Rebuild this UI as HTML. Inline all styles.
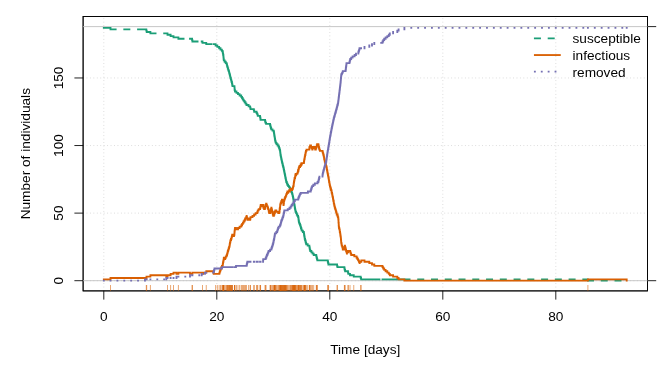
<!DOCTYPE html>
<html><head><meta charset="utf-8"><title>Epidemic curves</title>
<style>html,body{margin:0;padding:0;background:#fff}body{width:664px;height:374px;overflow:hidden}</style></head>
<body>
<svg width="664" height="374" viewBox="0 0 664 374" style="display:block;font-family:'Liberation Sans',sans-serif;font-size:13.67px" fill="#000">
<rect width="664" height="374" fill="#fff"/>
<path d="M103.8 290.9V16.5M216.8 290.9V16.5M329.8 290.9V16.5M442.8 290.9V16.5M555.8 290.9V16.5M83.1 280.7H647.5M83.1 213.12H647.5M83.1 145.54H647.5M83.1 77.96H647.5" fill="none" stroke="#d3d3d3" stroke-width="0.86" stroke-dasharray="0.86 2.58"/>
<path d="M103.8 290.9V299.6M216.8 290.9V299.6M329.8 290.9V299.6M442.8 290.9V299.6M555.8 290.9V299.6M83.1 280.7H74.4M83.1 213.12H74.4M83.1 145.54H74.4M83.1 77.96H74.4M647.5 280.7H656.2M647.5 26.6H656.2" fill="none" stroke="#000" stroke-width="0.86"/>
<rect x="83.1" y="16.5" width="564.4" height="274.4" fill="none" stroke="#000" stroke-width="0.86"/>
<rect x="83.1" y="16.5" width="564.4" height="274.4" fill="none" stroke="#000" stroke-width="0.86"/>
<path d="M83.1 280.7H647.5M83.1 26.6H647.5" fill="none" stroke="#bebebe" stroke-width="0.86"/>
<path d="M103.8 27.95H110.5M110.5 27.95V29.3M110.5 29.3H145M145 29.3H146.3M146.3 29.3V30.65M146.3 30.65H146.7M146.7 30.65V32.01M146.7 32.01H150.4M150.4 32.01V33.36M150.4 33.36H166.3M166.3 33.36H167.5M167.5 33.36V34.71M167.5 34.71H170.6M170.6 34.71V36.06M170.6 36.06H173.5M173.5 36.06V37.41M173.5 37.41H176.5M176.5 37.41H178.4M178.4 37.41V38.76M178.4 38.76H190M190 38.76H192.1M192.1 38.76V40.12M192.1 40.12H192.4M192.4 40.12V41.47M192.4 41.47H201.7M201.7 41.47H202.5M202.5 41.47V42.82M202.5 42.82H205M205 42.82H206.25M206.25 42.82V44.17M206.25 44.17H213.69M213.69 44.17H214.06M214.06 44.17H214.44M214.44 44.17H215.6M215.6 44.17V45.52M215.6 45.52H217.33M217.33 45.52V46.87M217.33 46.87H219.15M219.15 46.87V48.22M219.15 48.22H220.5M220.5 48.22V49.58M220.5 49.58H221.85M221.85 49.58V50.93M221.85 50.93H222M222 50.93H222.64M222.64 50.93V52.28M222.64 52.28H222.9M222.9 52.28V53.63M222.9 53.63H223.16M223.16 53.63V54.98M223.16 54.98H223.37M223.37 54.98V56.33M223.37 56.33H223.5M223.5 56.33V57.69M223.5 57.69H223.64M223.64 57.69V59.04M223.64 59.04H223.77M223.77 59.04V60.39M223.77 60.39H224.65M224.65 60.39V61.74M224.65 61.74H225.73M225.73 61.74V63.09M225.73 63.09H226.67M226.67 63.09V64.44M226.67 64.44H227.03M227.03 64.44V65.8M227.03 65.8H227.38M227.38 65.8V67.15M227.38 67.15H227.77M227.77 67.15V68.5M227.77 68.5H228.2M228.2 68.5V69.85M228.2 69.85H228.63M228.63 69.85V71.2M228.63 71.2H229.06M229.06 71.2V72.55M229.06 72.55H229.43M229.43 72.55V73.91M229.43 73.91H229.77M229.77 73.91V75.26M229.77 75.26H230.11M230.11 75.26V76.61M230.11 76.61H230.45M230.45 76.61V77.96M230.45 77.96H230.81M230.81 77.96V79.31M230.81 79.31H231.19M231.19 79.31V80.66M231.19 80.66H231.57M231.57 80.66V82.01M231.57 82.01H231.94M231.94 82.01V83.37M231.94 83.37H232.2M232.2 83.37V84.72M232.2 84.72H232.46M232.46 84.72V86.07M232.46 86.07H234.44M234.44 86.07V87.42M234.44 87.42H234.55M234.55 87.42V88.77M234.55 88.77H234.66M234.66 88.77V90.12M234.66 90.12H234.97M234.97 90.12V91.48M234.97 91.48H236M236 91.48H236.46M236.46 91.48V92.83M236.46 92.83H237.98M237.98 92.83V94.18M237.98 94.18H239.59M239.59 94.18V95.53M239.59 95.53H241.2M241.2 95.53V96.88M241.2 96.88H242.03M242.03 96.88V98.23M242.03 98.23H242.85M242.85 98.23V99.59M242.85 99.59H243.68M243.68 99.59V100.94M243.68 100.94H244.61M244.61 100.94V102.29M244.61 102.29H245.54M245.54 102.29V103.64M245.54 103.64H246.47M246.47 103.64V104.99M246.47 104.99H246.67M246.67 104.99H247M247 104.99H247.33M247.33 104.99H248.59M248.59 104.99V106.34M248.59 106.34H250.14M250.14 106.34V107.7M250.14 107.7H250.5M250.5 107.7V109.05M250.5 109.05H253.83M253.83 109.05V110.4M253.83 110.4H254.19M254.19 110.4V111.75M254.19 111.75H256.59M256.59 111.75V113.1M256.59 113.1H257.21M257.21 113.1V114.45M257.21 114.45H257.76M257.76 114.45V115.8M257.76 115.8H260.04M260.04 115.8V117.16M260.04 117.16H260.3M260.3 117.16V118.51M260.3 118.51H260.56M260.56 118.51V119.86M260.56 119.86H263.07M263.07 119.86H263.23M263.23 119.86H265.1M265.1 119.86V121.21M265.1 121.21H265.37M265.37 121.21V122.56M265.37 122.56H265.71M265.71 122.56H266.07M266.07 122.56V123.91M266.07 123.91H266.29M266.29 123.91H266.86M266.86 123.91H267.43M267.43 123.91H268.01M268.01 123.91H268.58M268.58 123.91H270.05M270.05 123.91H270.05M270.05 123.91V125.27M270.05 125.27H270.44M270.44 125.27V126.62M270.44 126.62H270.83M270.83 126.62V127.97M270.83 127.97H271.22M271.22 127.97V129.32M271.22 129.32H271.4M271.4 129.32H271.84M271.84 129.32H272.29M272.29 129.32H272.5M272.5 129.32V130.67M272.5 130.67H272.73M272.73 130.67H273.15M273.15 130.67H273.43M273.43 130.67H273.71M273.71 130.67H273.77M273.77 130.67V132.02M273.77 132.02H273.98M273.98 132.02V133.38M273.98 133.38H273.99M273.99 133.38H274.2M274.2 133.38V134.73M274.2 134.73H274.27M274.27 134.73H274.41M274.41 134.73V136.08M274.41 136.08H274.52M274.52 136.08H274.63M274.63 136.08V137.43M274.63 137.43H274.73M274.73 137.43H274.85M274.85 137.43V138.78M274.85 138.78H274.95M274.95 138.78H275.07M275.07 138.78V140.13M275.07 140.13H275.29M275.29 140.13V141.49M275.29 141.49H275.76M275.76 141.49V142.84M275.76 142.84H276.26M276.26 142.84H276.51M276.51 142.84V144.19M276.51 144.19H277.18M277.18 144.19H277.59M277.59 144.19V145.54M277.59 145.54H277.64M277.64 145.54H278.1M278.1 145.54H278.58M278.58 145.54V146.89M278.58 146.89H278.67M278.67 146.89H279.09M279.09 146.89V148.24M279.09 148.24H279.59M279.59 148.24V149.59M279.59 149.59H279.89M279.89 149.59H280.03M280.03 149.59V150.95M280.03 150.95H280.19M280.19 150.95V152.3M280.19 152.3H280.36M280.36 152.3V153.65M280.36 153.65H280.51M280.51 153.65H280.52M280.52 153.65V155M280.52 155H280.74M280.74 155V156.35M280.74 156.35H280.83M280.83 156.35H281.02M281.02 156.35V157.7M281.02 157.7H281.15M281.15 157.7H281.3M281.3 157.7V159.06M281.3 159.06H281.58M281.58 159.06H281.58M281.58 159.06V160.41M281.58 160.41H281.87M281.87 160.41V161.76M281.87 161.76H282.13M282.13 161.76H282.19M282.19 161.76V163.11M282.19 163.11H282.53M282.53 163.11V164.46M282.53 164.46H282.68M282.68 164.46H282.86M282.86 164.46V165.81M282.86 165.81H283.17M283.17 165.81H283.19M283.19 165.81V167.17M283.19 167.17H283.46M283.46 167.17H283.53M283.53 167.17V168.52M283.53 168.52H283.75M283.75 168.52H283.84M283.84 168.52V169.87M283.84 169.87H284.04M284.04 169.87H284.11M284.11 169.87V171.22M284.11 171.22H284.34M284.34 171.22H284.38M284.38 171.22V172.57M284.38 172.57H284.65M284.65 172.57V173.92M284.65 173.92H284.92M284.92 173.92V175.28M284.92 175.28H285.19M285.19 175.28V176.63M285.19 176.63H285.46M285.46 176.63V177.98M285.46 177.98H285.73M285.73 177.98V179.33M285.73 179.33H286M286 179.33V180.68M286 180.68H286.29M286.29 180.68V182.03M286.29 182.03H286.81M286.81 182.03V183.38M286.81 183.38H287.33M287.33 183.38V184.74M287.33 184.74H287.74M287.74 184.74H288.13M288.13 184.74V186.09M288.13 186.09H289.07M289.07 186.09V187.44M289.07 187.44H289.49M289.49 187.44H290.01M290.01 187.44V188.79M290.01 188.79H290.59M290.59 188.79V190.14M290.59 190.14H290.7M290.7 190.14H291.17M291.17 190.14V191.49M291.17 191.49H291.65M291.65 191.49H291.76M291.76 191.49V192.85M291.76 192.85H292.17M292.17 192.85V194.2M292.17 194.2H292.51M292.51 194.2H292.53M292.53 194.2V195.55M292.53 195.55H292.89M292.89 195.55V196.9M292.89 196.9H293.13M293.13 196.9V198.25M293.13 198.25H293.37M293.37 198.25H293.37M293.37 198.25V199.6M293.37 199.6H293.61M293.61 199.6V200.96M293.61 200.96H293.85M293.85 200.96V202.31M293.85 202.31H294.09M294.09 202.31V203.66M294.09 203.66H294.18M294.18 203.66H294.33M294.33 203.66V205.01M294.33 205.01H294.57M294.57 205.01V206.36M294.57 206.36H294.8M294.8 206.36V207.71M294.8 207.71H294.86M294.86 207.71H295.04M295.04 207.71V209.07M295.04 209.07H295.28M295.28 209.07V210.42M295.28 210.42H295.54M295.54 210.42V211.77M295.54 211.77H296.15M296.15 211.77V213.12M296.15 213.12H296.75M296.75 213.12V214.47M296.75 214.47H297.37M297.37 214.47V215.82M297.37 215.82H298.05M298.05 215.82V217.17M298.05 217.17H298.23M298.23 217.17H298.41M298.41 217.17V218.53M298.41 218.53H298.58M298.58 218.53V219.88M298.58 219.88H298.71M298.71 219.88H298.75M298.75 219.88V221.23M298.75 221.23H298.98M298.98 221.23V222.58M298.98 222.58H299.18M299.18 222.58H299.5M299.5 222.58V223.93M299.5 223.93H299.83M299.83 223.93H300.02M300.02 223.93V225.28M300.02 225.28H300.51M300.51 225.28V226.64M300.51 226.64H300.64M300.64 226.64H300.91M300.91 226.64V227.99M300.91 227.99H301.31M301.31 227.99V229.34M301.31 229.34H301.71M301.71 229.34V230.69M301.71 230.69H302.85M302.85 230.69V232.04M302.85 232.04H303.84M303.84 232.04V233.39M303.84 233.39H304.06M304.06 233.39V234.75M304.06 234.75H304.28M304.28 234.75V236.1M304.28 236.1H304.5M304.5 236.1V237.45M304.5 237.45H304.72M304.72 237.45V238.8M304.72 238.8H305.05M305.05 238.8V240.15M305.05 240.15H305.43M305.43 240.15V241.5M305.43 241.5H305.81M305.81 241.5V242.86M305.81 242.86H306.19M306.19 242.86V244.21M306.19 244.21H307.68M307.68 244.21V245.56M307.68 245.56H307.88M307.88 245.56H309.38M309.38 245.56V246.91M309.38 246.91H309.61M309.61 246.91V248.26M309.61 248.26H309.83M309.83 248.26V249.61M309.83 249.61H310.25M310.25 249.61V250.96M310.25 250.96H310.73M310.73 250.96H311.15M311.15 250.96H311.4M311.4 250.96V252.32M311.4 252.32H311.56M311.56 252.32H312.1M312.1 252.32H312.55M312.55 252.32V253.67M312.55 253.67H313.31M313.31 253.67H313.7M313.7 253.67V255.02M313.7 255.02H314.86M314.86 255.02H316.27M316.27 255.02V256.37M316.27 256.37H316.62M316.62 256.37V257.72M316.62 257.72H316.97M316.97 257.72V259.07M316.97 259.07H317.32M317.32 259.07V260.43M317.32 260.43H317.56M317.56 260.43H318.39M318.39 260.43H318.72M318.72 260.43H319.06M319.06 260.43H319.42M319.42 260.43H322.49M322.49 260.43H322.67M322.67 260.43H322.89M322.89 260.43H323.25M323.25 260.43H323.61M323.61 260.43H323.98M323.98 260.43H324.37M324.37 260.43H324.75M324.75 260.43H325.14M325.14 260.43H325.53M325.53 260.43H325.91M325.91 260.43H326.27M326.27 260.43H326.47M326.47 260.43H326.66M326.66 260.43H326.85M326.85 260.43H327.05M327.05 260.43H327.24M327.24 260.43H327.43M327.43 260.43H327.66M327.66 260.43H327.8M327.8 260.43V261.78M327.8 261.78H327.9M327.9 261.78H328.1M328.1 261.78V263.13M328.1 263.13H328.14M328.14 263.13H328.38M328.38 263.13H328.4M328.4 263.13V264.48M328.4 264.48H328.62M328.62 264.48H328.85M328.85 264.48H329.06M329.06 264.48H329.27M329.27 264.48H329.48M329.48 264.48H329.69M329.69 264.48H329.91M329.91 264.48H330.14M330.14 264.48H330.4M330.4 264.48H330.66M330.66 264.48H330.91M330.91 264.48H331.17M331.17 264.48H331.43M331.43 264.48H331.68M331.68 264.48H331.94M331.94 264.48H332.23M332.23 264.48H332.52M332.52 264.48H332.8M332.8 264.48H333.09M333.09 264.48H333.37M333.37 264.48H333.66M333.66 264.48H334.01M334.01 264.48H334.4M334.4 264.48H334.78M334.78 264.48H335.17M335.17 264.48H335.56M335.56 264.48H335.94M335.94 264.48H336.32M336.32 264.48H336.68M336.68 264.48H337.04M337.04 264.48H337.1M337.1 264.48V265.83M337.1 265.83H337.39M337.39 265.83H337.4M337.4 265.83V267.18M337.4 267.18H337.75M337.75 267.18H338.1M338.1 267.18H338.27M338.27 267.18H338.44M338.44 267.18H338.61M338.61 267.18H338.77M338.77 267.18H338.94M338.94 267.18H339.11M339.11 267.18H339.28M339.28 267.18H339.44M339.44 267.18H339.6M339.6 267.18H339.77M339.77 267.18H339.93M339.93 267.18H340.09M340.09 267.18H340.25M340.25 267.18H340.41M340.41 267.18H340.58M340.58 267.18H340.7M340.7 267.18H340.82M340.82 267.18H340.93M340.93 267.18H341.05M341.05 267.18H341.17M341.17 267.18H341.46M341.46 267.18H342.12M342.12 267.18H342.79M342.79 267.18H344.4M344.4 267.18V268.54M344.4 268.54H344.7M344.7 268.54V269.89M344.7 269.89H345.1M345.1 269.89V271.24M345.1 271.24H345.61M345.61 271.24H345.79M345.79 271.24H345.96M345.96 271.24H346.14M346.14 271.24H346.32M346.32 271.24H346.5M346.5 271.24H348M348 271.24V272.59M348 272.59H348.3M348.3 272.59V273.94M348.3 273.94H349.49M349.49 273.94H349.85M349.85 273.94H350M350 273.94V275.29M350 275.29H350.22M350.22 275.29H351.2M351.2 275.29H352.6M352.6 275.29H353.75M353.75 275.29V276.65M353.75 276.65H354.6M354.6 276.65H356M356 276.65H358.3M358.3 276.65H358.7M358.7 276.65H359.1M359.1 276.65H359.5M359.5 276.65H360.7M360.7 276.65V278M360.7 278H361.1M361.1 278V279.35M361.1 279.35H364.5M364.5 279.35H369.3M369.3 279.35H372M372 279.35H374.3M374.3 279.35H382.5M382.5 279.35H383.2M383.2 279.35H384.2M384.2 279.35H385.6M385.6 279.35H387.3M387.3 279.35H388.8M388.8 279.35H389.8M389.8 279.35H393.1M393.1 279.35H397.3M397.3 279.35H398.6M398.6 279.35H404.4M404.4 279.35H587.9M587.9 279.35V280.7M587.9 280.7H626.7" fill="none" stroke="#1B9E77" stroke-width="1.84" stroke-linecap="square" stroke-dasharray="5.16 8.6"/>
<path d="M103.8 279.35H110.5M110.5 279.35V278M110.5 278H146.5M146.5 278V276.65M146.5 276.65H150.4M150.4 276.65V275.29M150.4 275.29H166.3M166.3 275.29V276.65M166.3 276.65H167.5M167.5 276.65V275.29M167.5 275.29H170.6M170.6 275.29V273.94M170.6 273.94H173.5M173.5 273.94V272.59M173.5 272.59H176.5M176.5 272.59V273.94M176.5 273.94H178.4M178.4 273.94V272.59M178.4 272.59H190M190 272.59V273.94M190 273.94H192.3M192.3 273.94V272.59M192.3 272.59H201.9M201.9 272.59V273.94M201.9 273.94H203.1M203.1 273.94V272.59M203.1 272.59H206.3M206.3 272.59V271.24M206.3 271.24H213.3M213.3 271.24V272.59M213.3 272.59H213.7M213.7 272.59V273.94M213.7 273.94H219.4M219.4 273.94V272.59M219.4 272.59H219.8M219.8 272.59V271.24M219.8 271.24H220.3M220.3 271.24V269.89M220.3 269.89H220.8M220.8 269.89V268.54M220.8 268.54H221.3M221.3 268.54V267.18M221.3 267.18H221.9M221.9 267.18V265.83M221.9 265.83H222.7M222.7 265.83V264.48M222.7 264.48H222.9M222.9 264.48V263.13M222.9 263.13H223.1M223.1 263.13V261.78M223.1 261.78H223.4M223.4 261.78V260.43M223.4 260.43H223.7M223.7 260.43V259.07M223.7 259.07H223.8M223.8 259.07V257.72M223.8 257.72H224M224 257.72V259.07M224 259.07H224.7M224.7 259.07V257.72M224.7 257.72H224.9M224.9 257.72V259.07M224.9 259.07H225M225 259.07V257.72M225 257.72H225.1M225.1 257.72V259.07M225.1 259.07H225.2M225.2 259.07V257.72M225.2 257.72H225.8M225.8 257.72V256.37M225.8 256.37H226.7M226.7 256.37V255.02M226.7 255.02H227.1M227.1 255.02V253.67M227.1 253.67H227.5M227.5 253.67V252.32M227.5 252.32H227.8M227.8 252.32V250.96M227.8 250.96H228.2M228.2 250.96V249.61M228.2 249.61H228.7M228.7 249.61V248.26M228.7 248.26H229.1M229.1 248.26V246.91M229.1 246.91H229.5M229.5 246.91V245.56M229.5 245.56H229.7M229.7 245.56V244.21M229.7 244.21H229.9M229.9 244.21V242.86M229.9 242.86H230.2M230.2 242.86V241.5M230.2 241.5H230.5M230.5 241.5V240.15M230.5 240.15H230.9M230.9 240.15V238.8M230.9 238.8H231M231 238.8V240.15M231 240.15H231.1M231.1 240.15V238.8M231.1 238.8H231.5M231.5 238.8V237.45M231.5 237.45H231.9M231.9 237.45V236.1M231.9 236.1H232.2M232.2 236.1V234.75M232.2 234.75H233.6M233.6 234.75V236.1M233.6 236.1H234M234 236.1V234.75M234 234.75H234.4M234.4 234.75V233.39M234.4 233.39H234.5M234.5 233.39V232.04M234.5 232.04H234.6M234.6 232.04V230.69M234.6 230.69H234.8M234.8 230.69V229.34M234.8 229.34H235M235 229.34V227.99M235 227.99H236M236 227.99V229.34M236 229.34H238M238 229.34V227.99M238 227.99H239.6M239.6 227.99V226.64M239.6 226.64H241.3M241.3 226.64V225.28M241.3 225.28H242.1M242.1 225.28V223.93M242.1 223.93H242.9M242.9 223.93V222.58M242.9 222.58H243.7M243.7 222.58V221.23M243.7 221.23H244.6M244.6 221.23V219.88M244.6 219.88H245.1M245.1 219.88V218.53M245.1 218.53H246.1M246.1 218.53V217.17M246.1 217.17H246.6M246.6 217.17V215.82M246.6 215.82H246.7M246.7 215.82V217.17M246.7 217.17H247M247 217.17V218.53M247 218.53H247.4M247.4 218.53V219.88M247.4 219.88H248.6M248.6 219.88V218.53M248.6 218.53H248.7M248.7 218.53V219.88M248.7 219.88H250.2M250.2 219.88V218.53M250.2 218.53H250.5M250.5 218.53V217.17M250.5 217.17H252.5M252.5 217.17V215.82M252.5 215.82H254.1M254.1 215.82V214.47M254.1 214.47H255.6M255.6 214.47V213.12M255.6 213.12H257.3M257.3 213.12V211.77M257.3 211.77H257.8M257.8 211.77V210.42M257.8 210.42H258.7M258.7 210.42V209.07M258.7 209.07H260.1M260.1 209.07V207.71M260.1 207.71H260.4M260.4 207.71V206.36M260.4 206.36H260.7M260.7 206.36V205.01M260.7 205.01H261M261 205.01V206.36M261 206.36H262.5M262.5 206.36V205.01M262.5 205.01H263.1M263.1 205.01V206.36M263.1 206.36H263.4M263.4 206.36V207.71M263.4 207.71H264.1M264.1 207.71V209.07M264.1 209.07H264.9M264.9 209.07V207.71M264.9 207.71H265.2M265.2 207.71V206.36M265.2 206.36H265.4M265.4 206.36V205.01M265.4 205.01H266.1M266.1 205.01V203.66M266.1 203.66H266.3M266.3 203.66V205.01M266.3 205.01H266.4M266.4 205.01V203.66M266.4 203.66H266.5M266.5 203.66V205.01M266.5 205.01H266.9M266.9 205.01V206.36M266.9 206.36H267.7M267.7 206.36V207.71M267.7 207.71H268.1M268.1 207.71V209.07M268.1 209.07H268.6M268.6 209.07V210.42M268.6 210.42H268.8M268.8 210.42V211.77M268.8 211.77H269.2M269.2 211.77V213.12M269.2 213.12H270.1M270.1 213.12V211.77M270.1 211.77H270.5M270.5 211.77V210.42M270.5 210.42H270.9M270.9 210.42V209.07M270.9 209.07H271.3M271.3 209.07V207.71M271.3 207.71H271.5M271.5 207.71V209.07M271.5 209.07H271.9M271.9 209.07V210.42M271.9 210.42H272.1M272.1 210.42V211.77M272.1 211.77H272.3M272.3 211.77V213.12M272.3 213.12H272.5M272.5 213.12V211.77M272.5 211.77H272.7M272.7 211.77V213.12M272.7 213.12H272.8M272.8 213.12V214.47M272.8 214.47H273.2M273.2 214.47V215.82M273.2 215.82H273.9M273.9 215.82V214.47M273.9 214.47H274.2M274.2 214.47V213.12M274.2 213.12H274.3M274.3 213.12V214.47M274.3 214.47H274.4M274.4 214.47V213.12M274.4 213.12H274.7M274.7 213.12V211.77M274.7 211.77H274.8M274.8 211.77V213.12M274.8 213.12H274.9M274.9 213.12V211.77M274.9 211.77H275.3M275.3 211.77V210.42M275.3 210.42H276.3M276.3 210.42V211.77M276.3 211.77H278.2M278.2 211.77V213.12M278.2 213.12H278.6M278.6 213.12V211.77M278.6 211.77H278.7M278.7 211.77V213.12M278.7 213.12H279.3M279.3 213.12V211.77M279.3 211.77H279.6M279.6 211.77V209.07M279.6 209.07H279.8M279.8 209.07V207.71M279.8 207.71H279.9M279.9 207.71V209.07M279.9 209.07H280M280 209.07V207.71M280 207.71H280.1M280.1 207.71V206.36M280.1 206.36H280.2M280.2 206.36V205.01M280.2 205.01H280.4M280.4 205.01V203.66M280.4 203.66H280.8M280.8 203.66V202.31M280.8 202.31H280.9M280.9 202.31V203.66M280.9 203.66H281.1M281.1 203.66V202.31M281.1 202.31H281.4M281.4 202.31V200.96M281.4 200.96H281.9M281.9 200.96V199.6M281.9 199.6H282.3M282.3 199.6V200.96M282.3 200.96H282.7M282.7 200.96V202.31M282.7 202.31H283.3M283.3 202.31V203.66M283.3 203.66H283.5M283.5 203.66V205.01M283.5 205.01H283.6M283.6 205.01V203.66M283.6 203.66H283.7M283.7 203.66V202.31M283.7 202.31H283.8M283.8 202.31V203.66M283.8 203.66H283.9M283.9 203.66V200.96M283.9 200.96H284.2M284.2 200.96V199.6M284.2 199.6H284.7M284.7 199.6V198.25M284.7 198.25H285.2M285.2 198.25V196.9M285.2 196.9H285.8M285.8 196.9V195.55M285.8 195.55H286.3M286.3 195.55V194.2M286.3 194.2H286.9M286.9 194.2V192.85M286.9 192.85H287.4M287.4 192.85V191.49M287.4 191.49H287.8M287.8 191.49V192.85M287.8 192.85H288.2M288.2 192.85V191.49M288.2 191.49H289.1M289.1 191.49V190.14M289.1 190.14H289.6M289.6 190.14V191.49M289.6 191.49H289.9M289.9 191.49V190.14M289.9 190.14H290.6M290.6 190.14V188.79M290.6 188.79H290.7M290.7 188.79V190.14M290.7 190.14H291.2M291.2 190.14V188.79M291.2 188.79H291.7M291.7 188.79V190.14M291.7 190.14H291.8M291.8 190.14V188.79M291.8 188.79H292.1M292.1 188.79V190.14M292.1 190.14H292.2M292.2 190.14V188.79M292.2 188.79H292.9M292.9 188.79V187.44M292.9 187.44H293.2M293.2 187.44V186.09M293.2 186.09H293.6M293.6 186.09V184.74M293.6 184.74H293.7M293.7 184.74V183.38M293.7 183.38H293.9M293.9 183.38V182.03M293.9 182.03H294.1M294.1 182.03V180.68M294.1 180.68H294.4M294.4 180.68V179.33M294.4 179.33H294.6M294.6 179.33V177.98M294.6 177.98H295.1M295.1 177.98V176.63M295.1 176.63H295.3M295.3 176.63V175.28M295.3 175.28H295.6M295.6 175.28V173.92M295.6 173.92H296.1M296.1 173.92V175.28M296.1 175.28H296.2M296.2 175.28V173.92M296.2 173.92H297.4M297.4 173.92V172.57M297.4 172.57H297.9M297.9 172.57V171.22M297.9 171.22H298.1M298.1 171.22V169.87M298.1 169.87H298.3M298.3 169.87V171.22M298.3 171.22H298.4M298.4 171.22V169.87M298.4 169.87H298.6M298.6 169.87V168.52M298.6 168.52H299M299 168.52V167.17M299 167.17H299.5M299.5 167.17V165.81M299.5 165.81H299.9M299.9 165.81V167.17M299.9 167.17H300.1M300.1 167.17V165.81M300.1 165.81H300.6M300.6 165.81V164.46M300.6 164.46H300.7M300.7 164.46V165.81M300.7 165.81H301M301 165.81V164.46M301 164.46H301.4M301.4 164.46V163.11M301.4 163.11H301.6M301.6 163.11V164.46M301.6 164.46H301.8M301.8 164.46V163.11M301.8 163.11H303.9M303.9 163.11V161.76M303.9 161.76H304.1M304.1 161.76V160.41M304.1 160.41H304.3M304.3 160.41V159.06M304.3 159.06H304.6M304.6 159.06V157.7M304.6 157.7H304.8M304.8 157.7V156.35M304.8 156.35H305.1M305.1 156.35V155M305.1 155H305.4M305.4 155V153.65M305.4 153.65H305.6M305.6 153.65V152.3M305.6 152.3H305.9M305.9 152.3V150.95M305.9 150.95H306.5M306.5 150.95V149.59M306.5 149.59H309.3M309.3 149.59V148.24M309.3 148.24H309.5M309.5 148.24V146.89M309.5 146.89H310.1M310.1 146.89V145.54M310.1 145.54H311M311 145.54V146.89M311 146.89H311.6M311.6 146.89V148.24M311.6 148.24H312.3M312.3 148.24V149.59M312.3 149.59H312.5M312.5 149.59V148.24M312.5 148.24H313.3M313.3 148.24V146.89M313.3 146.89H314.5M314.5 146.89V148.24M314.5 148.24H315.2M315.2 148.24V149.59M315.2 149.59H315.8M315.8 149.59V148.24M315.8 148.24H316.3M316.3 148.24V146.89M316.3 146.89H316.7M316.7 146.89V145.54M316.7 145.54H317.1M317.1 145.54V144.19M317.1 144.19H318.4M318.4 144.19V145.54M318.4 145.54H318.7M318.7 145.54V146.89M318.7 146.89H319M319 146.89V148.24M319 148.24H319.3M319.3 148.24V149.59M319.3 149.59H319.9M319.9 149.59V150.95M319.9 150.95H322.6M322.6 150.95V152.3M322.6 152.3H323M323 152.3V153.65M323 153.65H323.4M323.4 153.65V155M323.4 155H323.7M323.7 155V156.35M323.7 156.35H324M324 156.35V157.7M324 157.7H324.2M324.2 157.7V159.06M324.2 159.06H324.5M324.5 159.06V160.41M324.5 160.41H324.8M324.8 160.41V161.76M324.8 161.76H325.2M325.2 161.76V163.11M325.2 163.11H325.5M325.5 163.11V164.46M325.5 164.46H326M326 164.46V165.81M326 165.81H326.4M326.4 165.81V167.17M326.4 167.17H326.7M326.7 167.17V168.52M326.7 168.52H326.9M326.9 168.52V169.87M326.9 169.87H327.2M327.2 169.87V171.22M327.2 171.22H327.4M327.4 171.22V172.57M327.4 172.57H327.7M327.7 172.57V173.92M327.7 173.92H327.9M327.9 173.92V175.28M327.9 175.28H328.2M328.2 175.28V176.63M328.2 176.63H328.5M328.5 176.63V177.98M328.5 177.98H328.7M328.7 177.98V179.33M328.7 179.33H328.9M328.9 179.33V180.68M328.9 180.68H329.1M329.1 180.68V182.03M329.1 182.03H329.4M329.4 182.03V183.38M329.4 183.38H329.6M329.6 183.38V184.74M329.6 184.74H329.9M329.9 184.74V186.09M329.9 186.09H330.2M330.2 186.09V187.44M330.2 187.44H330.5M330.5 187.44V188.79M330.5 188.79H330.6M330.6 188.79V187.44M330.6 187.44H330.7M330.7 187.44V188.79M330.7 188.79H331M331 188.79V190.14M331 190.14H331.5M331.5 190.14V191.49M331.5 191.49H331.7M331.7 191.49V192.85M331.7 192.85H332.1M332.1 192.85V194.2M332.1 194.2H332.3M332.3 194.2V195.55M332.3 195.55H332.6M332.6 195.55V196.9M332.6 196.9H332.9M332.9 196.9V198.25M332.9 198.25H333.1M333.1 198.25V199.6M333.1 199.6H333.4M333.4 199.6V200.96M333.4 200.96H333.7M333.7 200.96V202.31M333.7 202.31H333.8M333.8 202.31V203.66M333.8 203.66H334.2M334.2 203.66V205.01M334.2 205.01H334.4M334.4 205.01V206.36M334.4 206.36H334.8M334.8 206.36V207.71M334.8 207.71H335.2M335.2 207.71V209.07M335.2 209.07H335.6M335.6 209.07V210.42M335.6 210.42H336M336 210.42V211.77M336 211.77H336.4M336.4 211.77V213.12M336.4 213.12H336.7M336.7 213.12V214.47M336.7 214.47H337.4M337.4 214.47V215.82M337.4 215.82H337.5M337.5 215.82V214.47M337.5 214.47H337.6M337.6 214.47V215.82M337.6 215.82H337.8M337.8 215.82V217.17M337.8 217.17H338.2M338.2 217.17V218.53M338.2 218.53H338.4M338.4 218.53V219.88M338.4 219.88H338.5M338.5 219.88V222.58M338.5 222.58H338.7M338.7 222.58V225.28M338.7 225.28H338.8M338.8 225.28V226.64M338.8 226.64H339M339 226.64V227.99M339 227.99H339.3M339.3 227.99V229.34M339.3 229.34H339.7M339.7 229.34V230.69M339.7 230.69H339.8M339.8 230.69V232.04M339.8 232.04H340.1M340.1 232.04V233.39M340.1 233.39H340.3M340.3 233.39V234.75M340.3 234.75H340.5M340.5 234.75V236.1M340.5 236.1H340.7M340.7 236.1V237.45M340.7 237.45H340.9M340.9 237.45V238.8M340.9 238.8H341M341 238.8V240.15M341 240.15H341.1M341.1 240.15V241.5M341.1 241.5H341.2M341.2 241.5V242.86M341.2 242.86H341.5M341.5 242.86V244.21M341.5 244.21H341.7M341.7 244.21V245.56M341.7 245.56H342.2M342.2 245.56V246.91M342.2 246.91H342.6M342.6 246.91V248.26M342.6 248.26H342.8M342.8 248.26V249.61M342.8 249.61H344.2M344.2 249.61V248.26M344.2 248.26H344.6M344.6 248.26V246.91M344.6 246.91H344.8M344.8 246.91V245.56M344.8 245.56H345M345 245.56V246.91M345 246.91H345.3M345.3 246.91V248.26M345.3 248.26H345.7M345.7 248.26V249.61M345.7 249.61H346.1M346.1 249.61V250.96M346.1 250.96H346.5M346.5 250.96V252.32M346.5 252.32H346.9M346.9 252.32V253.67M346.9 253.67H347M347 253.67V252.32M347 252.32H348.1M348.1 252.32V250.96M348.1 250.96H350.2M350.2 250.96V252.32M350.2 252.32H350.7M350.7 252.32V253.67M350.7 253.67H351.2M351.2 253.67V255.02M351.2 255.02H354.3M354.3 255.02V256.37M354.3 256.37H356.6M356.6 256.37V257.72M356.6 257.72H357.4M357.4 257.72V259.07M357.4 259.07H358.1M358.1 259.07V260.43M358.1 260.43H358.9M358.9 260.43V261.78M358.9 261.78H359.6M359.6 261.78V263.13M359.6 263.13H359.7M359.7 263.13V261.78M359.7 261.78H361.3M361.3 261.78V260.43M361.3 260.43H364.5M364.5 260.43V261.78M364.5 261.78H369.3M369.3 261.78V263.13M369.3 263.13H372M372 263.13V264.48M372 264.48H374.3M374.3 264.48V265.83M374.3 265.83H382.5M382.5 265.83V267.18M382.5 267.18H383.2M383.2 267.18V268.54M383.2 268.54H384.2M384.2 268.54V269.89M384.2 269.89H385.6M385.6 269.89V271.24M385.6 271.24H387.3M387.3 271.24V272.59M387.3 272.59H388.8M388.8 272.59V273.94M388.8 273.94H389.8M389.8 273.94V275.29M389.8 275.29H393.1M393.1 275.29V276.65M393.1 276.65H397.3M397.3 276.65V278M397.3 278H398.6M398.6 278V279.35M398.6 279.35H404.4M404.4 279.35V280.7M404.4 280.7H587.9M587.9 280.7V279.35M587.9 279.35H626.7M626.7 279.35V280.7" fill="none" stroke="#D95F02" stroke-width="1.84" stroke-linecap="square"/>
<path d="M103.8 280.7H110.5M110.5 280.7H145M145 280.7V279.35M145 279.35H146.3M146.3 279.35H146.7M146.7 279.35H150.4M150.4 279.35H166.3M166.3 279.35V278M166.3 278H167.5M167.5 278H170.6M170.6 278H173.5M173.5 278H176.5M176.5 278V276.65M176.5 276.65H178.4M178.4 276.65H190M190 276.65V275.29M190 275.29H192.1M192.1 275.29H192.4M192.4 275.29H201.7M201.7 275.29V273.94M201.7 273.94H202.5M202.5 273.94H205M205 273.94V272.59M205 272.59H206.25M206.25 272.59H213.69M213.69 272.59V271.24M213.69 271.24H214.06M214.06 271.24V269.89M214.06 269.89H214.44M214.44 269.89V268.54M214.44 268.54H215.6M215.6 268.54H217.33M217.33 268.54H219.15M219.15 268.54H220.5M220.5 268.54H221.85M221.85 268.54H222M222 268.54V267.18M222 267.18H222.64M222.64 267.18H222.9M222.9 267.18H223.16M223.16 267.18H223.37M223.37 267.18H223.5M223.5 267.18H223.64M223.64 267.18H223.77M223.77 267.18H224.65M224.65 267.18H225.73M225.73 267.18H226.67M226.67 267.18H227.03M227.03 267.18H227.38M227.38 267.18H227.77M227.77 267.18H228.2M228.2 267.18H228.63M228.63 267.18H229.06M229.06 267.18H229.43M229.43 267.18H229.77M229.77 267.18H230.11M230.11 267.18H230.45M230.45 267.18H230.81M230.81 267.18H231.19M231.19 267.18H231.57M231.57 267.18H231.94M231.94 267.18H232.2M232.2 267.18H232.46M232.46 267.18H234.44M234.44 267.18H234.55M234.55 267.18H234.66M234.66 267.18H234.97M234.97 267.18H236M236 267.18V265.83M236 265.83H236.46M236.46 265.83H237.98M237.98 265.83H239.59M239.59 265.83H241.2M241.2 265.83H242.03M242.03 265.83H242.85M242.85 265.83H243.68M243.68 265.83H244.61M244.61 265.83H245.54M245.54 265.83H246.47M246.47 265.83H246.67M246.67 265.83V264.48M246.67 264.48H247M247 264.48V263.13M247 263.13H247.33M247.33 263.13V261.78M247.33 261.78H248.59M248.59 261.78H250.14M250.14 261.78H250.5M250.5 261.78H253.83M253.83 261.78H254.19M254.19 261.78H256.59M256.59 261.78H257.21M257.21 261.78H257.76M257.76 261.78H260.04M260.04 261.78H260.3M260.3 261.78H260.56M260.56 261.78H263.07M263.07 261.78V260.43M263.07 260.43H263.23M263.23 260.43V259.07M263.23 259.07H265.1M265.1 259.07H265.37M265.37 259.07H265.71M265.71 259.07V257.72M265.71 257.72H266.07M266.07 257.72H266.29M266.29 257.72V256.37M266.29 256.37H266.86M266.86 256.37V255.02M266.86 255.02H267.43M267.43 255.02V253.67M267.43 253.67H268.01M268.01 253.67V252.32M268.01 252.32H268.58M268.58 252.32V250.96M268.58 250.96H270.05M270.05 250.96V249.61M270.05 249.61H270.05M270.05 249.61H270.44M270.44 249.61H270.83M270.83 249.61H271.22M271.22 249.61H271.4M271.4 249.61V248.26M271.4 248.26H271.84M271.84 248.26V246.91M271.84 246.91H272.29M272.29 246.91V245.56M272.29 245.56H272.5M272.5 245.56H272.73M272.73 245.56V244.21M272.73 244.21H273.15M273.15 244.21V242.86M273.15 242.86H273.43M273.43 242.86V241.5M273.43 241.5H273.71M273.71 241.5V240.15M273.71 240.15H273.77M273.77 240.15H273.98M273.98 240.15H273.99M273.99 240.15V238.8M273.99 238.8H274.2M274.2 238.8H274.27M274.27 238.8V237.45M274.27 237.45H274.41M274.41 237.45H274.52M274.52 237.45V236.1M274.52 236.1H274.63M274.63 236.1H274.73M274.73 236.1V234.75M274.73 234.75H274.85M274.85 234.75H274.95M274.95 234.75V233.39M274.95 233.39H275.07M275.07 233.39H275.29M275.29 233.39H275.76M275.76 233.39H276.26M276.26 233.39V232.04M276.26 232.04H276.51M276.51 232.04H277.18M277.18 232.04V230.69M277.18 230.69H277.59M277.59 230.69H277.64M277.64 230.69V229.34M277.64 229.34H278.1M278.1 229.34V227.99M278.1 227.99H278.58M278.58 227.99H278.67M278.67 227.99V226.64M278.67 226.64H279.09M279.09 226.64H279.59M279.59 226.64H279.89M279.89 226.64V225.28M279.89 225.28H280.03M280.03 225.28H280.19M280.19 225.28H280.36M280.36 225.28H280.51M280.51 225.28V223.93M280.51 223.93H280.52M280.52 223.93H280.74M280.74 223.93H280.83M280.83 223.93V222.58M280.83 222.58H281.02M281.02 222.58H281.15M281.15 222.58V221.23M281.15 221.23H281.3M281.3 221.23H281.58M281.58 221.23V219.88M281.58 219.88H281.58M281.58 219.88H281.87M281.87 219.88H282.13M282.13 219.88V218.53M282.13 218.53H282.19M282.19 218.53H282.53M282.53 218.53H282.68M282.68 218.53V217.17M282.68 217.17H282.86M282.86 217.17H283.17M283.17 217.17V215.82M283.17 215.82H283.19M283.19 215.82H283.46M283.46 215.82V214.47M283.46 214.47H283.53M283.53 214.47H283.75M283.75 214.47V213.12M283.75 213.12H283.84M283.84 213.12H284.04M284.04 213.12V211.77M284.04 211.77H284.11M284.11 211.77H284.34M284.34 211.77V210.42M284.34 210.42H284.38M284.38 210.42H284.65M284.65 210.42H284.92M284.92 210.42H285.19M285.19 210.42H285.46M285.46 210.42H285.73M285.73 210.42H286M286 210.42H286.29M286.29 210.42H286.81M286.81 210.42H287.33M287.33 210.42H287.74M287.74 210.42V209.07M287.74 209.07H288.13M288.13 209.07H289.07M289.07 209.07H289.49M289.49 209.07V207.71M289.49 207.71H290.01M290.01 207.71H290.59M290.59 207.71H290.7M290.7 207.71V206.36M290.7 206.36H291.17M291.17 206.36H291.65M291.65 206.36V205.01M291.65 205.01H291.76M291.76 205.01H292.17M292.17 205.01H292.51M292.51 205.01V203.66M292.51 203.66H292.53M292.53 203.66H292.89M292.89 203.66H293.13M293.13 203.66H293.37M293.37 203.66V202.31M293.37 202.31H293.37M293.37 202.31H293.61M293.61 202.31H293.85M293.85 202.31H294.09M294.09 202.31H294.18M294.18 202.31V200.96M294.18 200.96H294.33M294.33 200.96H294.57M294.57 200.96H294.8M294.8 200.96H294.86M294.86 200.96V199.6M294.86 199.6H295.04M295.04 199.6H295.28M295.28 199.6H295.54M295.54 199.6H296.15M296.15 199.6H296.75M296.75 199.6H297.37M297.37 199.6H298.05M298.05 199.6H298.23M298.23 199.6V198.25M298.23 198.25H298.41M298.41 198.25H298.58M298.58 198.25H298.71M298.71 198.25V196.9M298.71 196.9H298.75M298.75 196.9H298.98M298.98 196.9H299.18M299.18 196.9V195.55M299.18 195.55H299.5M299.5 195.55H299.83M299.83 195.55V194.2M299.83 194.2H300.02M300.02 194.2H300.51M300.51 194.2H300.64M300.64 194.2V192.85M300.64 192.85H300.91M300.91 192.85H301.31M301.31 192.85H301.71M301.71 192.85H302.85M302.85 192.85H303.84M303.84 192.85H304.06M304.06 192.85H304.28M304.28 192.85H304.5M304.5 192.85H304.72M304.72 192.85H305.05M305.05 192.85H305.43M305.43 192.85H305.81M305.81 192.85H306.19M306.19 192.85H307.68M307.68 192.85H307.88M307.88 192.85V191.49M307.88 191.49H309.38M309.38 191.49H309.61M309.61 191.49H309.83M309.83 191.49H310.25M310.25 191.49H310.73M310.73 191.49V190.14M310.73 190.14H311.15M311.15 190.14V188.79M311.15 188.79H311.4M311.4 188.79H311.56M311.56 188.79V187.44M311.56 187.44H312.1M312.1 187.44V186.09M312.1 186.09H312.55M312.55 186.09H313.31M313.31 186.09V184.74M313.31 184.74H313.7M313.7 184.74H314.86M314.86 184.74V183.38M314.86 183.38H316.27M316.27 183.38H316.62M316.62 183.38H316.97M316.97 183.38H317.32M317.32 183.38H317.56M317.56 183.38V182.03M317.56 182.03H318.39M318.39 182.03V180.68M318.39 180.68H318.72M318.72 180.68V179.33M318.72 179.33H319.06M319.06 179.33V177.98M319.06 177.98H319.42M319.42 177.98V176.63M319.42 176.63H322.49M322.49 176.63V175.28M322.49 175.28H322.67M322.67 175.28V173.92M322.67 173.92H322.89M322.89 173.92V172.57M322.89 172.57H323.25M323.25 172.57V171.22M323.25 171.22H323.61M323.61 171.22V169.87M323.61 169.87H323.98M323.98 169.87V168.52M323.98 168.52H324.37M324.37 168.52V167.17M324.37 167.17H324.75M324.75 167.17V165.81M324.75 165.81H325.14M325.14 165.81V164.46M325.14 164.46H325.53M325.53 164.46V163.11M325.53 163.11H325.91M325.91 163.11V161.76M325.91 161.76H326.27M326.27 161.76V160.41M326.27 160.41H326.47M326.47 160.41V159.06M326.47 159.06H326.66M326.66 159.06V157.7M326.66 157.7H326.85M326.85 157.7V156.35M326.85 156.35H327.05M327.05 156.35V155M327.05 155H327.24M327.24 155V153.65M327.24 153.65H327.43M327.43 153.65V152.3M327.43 152.3H327.66M327.66 152.3V150.95M327.66 150.95H327.8M327.8 150.95H327.9M327.9 150.95V149.59M327.9 149.59H328.1M328.1 149.59H328.14M328.14 149.59V148.24M328.14 148.24H328.38M328.38 148.24V146.89M328.38 146.89H328.4M328.4 146.89H328.62M328.62 146.89V145.54M328.62 145.54H328.85M328.85 145.54V144.19M328.85 144.19H329.06M329.06 144.19V142.84M329.06 142.84H329.27M329.27 142.84V141.49M329.27 141.49H329.48M329.48 141.49V140.13M329.48 140.13H329.69M329.69 140.13V138.78M329.69 138.78H329.91M329.91 138.78V137.43M329.91 137.43H330.14M330.14 137.43V136.08M330.14 136.08H330.4M330.4 136.08V134.73M330.4 134.73H330.66M330.66 134.73V133.38M330.66 133.38H330.91M330.91 133.38V132.02M330.91 132.02H331.17M331.17 132.02V130.67M331.17 130.67H331.43M331.43 130.67V129.32M331.43 129.32H331.68M331.68 129.32V127.97M331.68 127.97H331.94M331.94 127.97V126.62M331.94 126.62H332.23M332.23 126.62V125.27M332.23 125.27H332.52M332.52 125.27V123.91M332.52 123.91H332.8M332.8 123.91V122.56M332.8 122.56H333.09M333.09 122.56V121.21M333.09 121.21H333.37M333.37 121.21V119.86M333.37 119.86H333.66M333.66 119.86V118.51M333.66 118.51H334.01M334.01 118.51V117.16M334.01 117.16H334.4M334.4 117.16V115.8M334.4 115.8H334.78M334.78 115.8V114.45M334.78 114.45H335.17M335.17 114.45V113.1M335.17 113.1H335.56M335.56 113.1V111.75M335.56 111.75H335.94M335.94 111.75V110.4M335.94 110.4H336.32M336.32 110.4V109.05M336.32 109.05H336.68M336.68 109.05V107.7M336.68 107.7H337.04M337.04 107.7V106.34M337.04 106.34H337.1M337.1 106.34H337.39M337.39 106.34V104.99M337.39 104.99H337.4M337.4 104.99H337.75M337.75 104.99V103.64M337.75 103.64H338.1M338.1 103.64V102.29M338.1 102.29H338.27M338.27 102.29V100.94M338.27 100.94H338.44M338.44 100.94V99.59M338.44 99.59H338.61M338.61 99.59V98.23M338.61 98.23H338.77M338.77 98.23V96.88M338.77 96.88H338.94M338.94 96.88V95.53M338.94 95.53H339.11M339.11 95.53V94.18M339.11 94.18H339.28M339.28 94.18V92.83M339.28 92.83H339.44M339.44 92.83V91.48M339.44 91.48H339.6M339.6 91.48V90.12M339.6 90.12H339.77M339.77 90.12V88.77M339.77 88.77H339.93M339.93 88.77V87.42M339.93 87.42H340.09M340.09 87.42V86.07M340.09 86.07H340.25M340.25 86.07V84.72M340.25 84.72H340.41M340.41 84.72V83.37M340.41 83.37H340.58M340.58 83.37V82.01M340.58 82.01H340.7M340.7 82.01V80.66M340.7 80.66H340.82M340.82 80.66V79.31M340.82 79.31H340.93M340.93 79.31V77.96M340.93 77.96H341.05M341.05 77.96V76.61M341.05 76.61H341.17M341.17 76.61V75.26M341.17 75.26H341.46M341.46 75.26V73.91M341.46 73.91H342.12M342.12 73.91V72.55M342.12 72.55H342.79M342.79 72.55V71.2M342.79 71.2H344.4M344.4 71.2H344.7M344.7 71.2H345.1M345.1 71.2H345.61M345.61 71.2V69.85M345.61 69.85H345.79M345.79 69.85V68.5M345.79 68.5H345.96M345.96 68.5V67.15M345.96 67.15H346.14M346.14 67.15V65.8M346.14 65.8H346.32M346.32 65.8V64.44M346.32 64.44H346.5M346.5 64.44V63.09M346.5 63.09H348M348 63.09H348.3M348.3 63.09H349.49M349.49 63.09V61.74M349.49 61.74H349.85M349.85 61.74V60.39M349.85 60.39H350M350 60.39H350.22M350.22 60.39V59.04M350.22 59.04H351.2M351.2 59.04V57.69M351.2 57.69H352.6M352.6 57.69V56.33M352.6 56.33H353.75M353.75 56.33H354.6M354.6 56.33V54.98M354.6 54.98H356M356 54.98V53.63M356 53.63H358.3M358.3 53.63V52.28M358.3 52.28H358.7M358.7 52.28V50.93M358.7 50.93H359.1M359.1 50.93V49.58M359.1 49.58H359.5M359.5 49.58V48.22M359.5 48.22H360.7M360.7 48.22H361.1M361.1 48.22H364.5M364.5 48.22V46.87M364.5 46.87H369.3M369.3 46.87V45.52M369.3 45.52H372M372 45.52V44.17M372 44.17H374.3M374.3 44.17V42.82M374.3 42.82H382.5M382.5 42.82V41.47M382.5 41.47H383.2M383.2 41.47V40.12M383.2 40.12H384.2M384.2 40.12V38.76M384.2 38.76H385.6M385.6 38.76V37.41M385.6 37.41H387.3M387.3 37.41V36.06M387.3 36.06H388.8M388.8 36.06V34.71M388.8 34.71H389.8M389.8 34.71V33.36M389.8 33.36H393.1M393.1 33.36V32.01M393.1 32.01H397.3M397.3 32.01V30.65M397.3 30.65H398.6M398.6 30.65V29.3M398.6 29.3H404.4M404.4 29.3V27.95M404.4 27.95H587.9M587.9 27.95H626.7M626.7 27.95V26.6" fill="none" stroke="#7570B3" stroke-width="1.84" stroke-linecap="square" stroke-dasharray="0.01 6.87"/>
<path d="M110.5 290.9V285M146.3 290.9V285M146.7 290.9V285M150.4 290.9V285M167.5 290.9V285M170.6 290.9V285M173.5 290.9V285M178.4 290.9V285M192.1 290.9V285M192.4 290.9V285M202.5 290.9V285M206.25 290.9V285M215.6 290.9V285M217.33 290.9V285M219.15 290.9V285M220.5 290.9V285M221.85 290.9V285M222.64 290.9V285M222.9 290.9V285M223.16 290.9V285M223.37 290.9V285M223.5 290.9V285M223.64 290.9V285M223.77 290.9V285M224.65 290.9V285M225.73 290.9V285M226.67 290.9V285M227.03 290.9V285M227.38 290.9V285M227.77 290.9V285M228.2 290.9V285M228.63 290.9V285M229.06 290.9V285M229.43 290.9V285M229.77 290.9V285M230.11 290.9V285M230.45 290.9V285M230.81 290.9V285M231.19 290.9V285M231.57 290.9V285M231.94 290.9V285M232.2 290.9V285M232.46 290.9V285M234.44 290.9V285M234.55 290.9V285M234.66 290.9V285M234.97 290.9V285M236.46 290.9V285M237.98 290.9V285M239.59 290.9V285M241.2 290.9V285M242.03 290.9V285M242.85 290.9V285M243.68 290.9V285M244.61 290.9V285M245.54 290.9V285M246.47 290.9V285M248.59 290.9V285M250.14 290.9V285M250.5 290.9V285M253.83 290.9V285M254.19 290.9V285M256.59 290.9V285M257.21 290.9V285M257.76 290.9V285M260.04 290.9V285M260.3 290.9V285M260.56 290.9V285M265.1 290.9V285M265.37 290.9V285M266.07 290.9V285M270.05 290.9V285M270.44 290.9V285M270.83 290.9V285M271.22 290.9V285M272.5 290.9V285M273.77 290.9V285M273.98 290.9V285M274.2 290.9V285M274.41 290.9V285M274.63 290.9V285M274.85 290.9V285M275.07 290.9V285M275.29 290.9V285M275.76 290.9V285M276.51 290.9V285M277.59 290.9V285M278.58 290.9V285M279.09 290.9V285M279.59 290.9V285M280.03 290.9V285M280.19 290.9V285M280.36 290.9V285M280.52 290.9V285M280.74 290.9V285M281.02 290.9V285M281.3 290.9V285M281.58 290.9V285M281.87 290.9V285M282.19 290.9V285M282.53 290.9V285M282.86 290.9V285M283.19 290.9V285M283.53 290.9V285M283.84 290.9V285M284.11 290.9V285M284.38 290.9V285M284.65 290.9V285M284.92 290.9V285M285.19 290.9V285M285.46 290.9V285M285.73 290.9V285M286 290.9V285M286.29 290.9V285M286.81 290.9V285M287.33 290.9V285M288.13 290.9V285M289.07 290.9V285M290.01 290.9V285M290.59 290.9V285M291.17 290.9V285M291.76 290.9V285M292.17 290.9V285M292.53 290.9V285M292.89 290.9V285M293.13 290.9V285M293.37 290.9V285M293.61 290.9V285M293.85 290.9V285M294.09 290.9V285M294.33 290.9V285M294.57 290.9V285M294.8 290.9V285M295.04 290.9V285M295.28 290.9V285M295.54 290.9V285M296.15 290.9V285M296.75 290.9V285M297.37 290.9V285M298.05 290.9V285M298.41 290.9V285M298.58 290.9V285M298.75 290.9V285M298.98 290.9V285M299.5 290.9V285M300.02 290.9V285M300.51 290.9V285M300.91 290.9V285M301.31 290.9V285M301.71 290.9V285M302.85 290.9V285M303.84 290.9V285M304.06 290.9V285M304.28 290.9V285M304.5 290.9V285M304.72 290.9V285M305.05 290.9V285M305.43 290.9V285M305.81 290.9V285M306.19 290.9V285M307.68 290.9V285M309.38 290.9V285M309.61 290.9V285M309.83 290.9V285M310.25 290.9V285M311.4 290.9V285M312.55 290.9V285M313.7 290.9V285M316.27 290.9V285M316.62 290.9V285M316.97 290.9V285M317.32 290.9V285M327.8 290.9V285M328.1 290.9V285M328.4 290.9V285M337.1 290.9V285M337.4 290.9V285M344.4 290.9V285M344.7 290.9V285M345.1 290.9V285M348 290.9V285M348.3 290.9V285M350 290.9V285M353.75 290.9V285M360.7 290.9V285M361.1 290.9V285M587.9 290.9V285" fill="none" stroke="#D95F02" stroke-width="0.55"/>
<path d="M534.86 38.4H559.84" fill="none" stroke="#1B9E77" stroke-width="1.84" stroke-linecap="square" stroke-dasharray="5.16 8.6"/>
<path d="M534.86 55.05H559.84" fill="none" stroke="#D95F02" stroke-width="1.84" stroke-linecap="square"/>
<path d="M534.86 71.7H559.84" fill="none" stroke="#7570B3" stroke-width="1.84" stroke-linecap="square" stroke-dasharray="0.01 6.87"/>
<g opacity="0.999">
<text x="572.5" y="43.4">susceptible</text>
<text x="572.5" y="60.05">infectious</text>
<text x="572.5" y="76.7">removed</text>
<text x="103.8" y="320.75" text-anchor="middle">0</text>
<text x="216.8" y="320.75" text-anchor="middle">20</text>
<text x="329.8" y="320.75" text-anchor="middle">40</text>
<text x="442.8" y="320.75" text-anchor="middle">60</text>
<text x="555.8" y="320.75" text-anchor="middle">80</text>
<text transform="translate(62.9 280.7) rotate(-90)" text-anchor="middle">0</text>
<text transform="translate(62.9 213.12) rotate(-90)" text-anchor="middle">50</text>
<text transform="translate(62.9 145.54) rotate(-90)" text-anchor="middle">100</text>
<text transform="translate(62.9 77.96) rotate(-90)" text-anchor="middle">150</text>
<text x="365.3" y="353.6" text-anchor="middle">Time [days]</text>
<text transform="translate(30.3 153.7) rotate(-90)" text-anchor="middle">Number of individuals</text>
</g>
</svg>
</body></html>
